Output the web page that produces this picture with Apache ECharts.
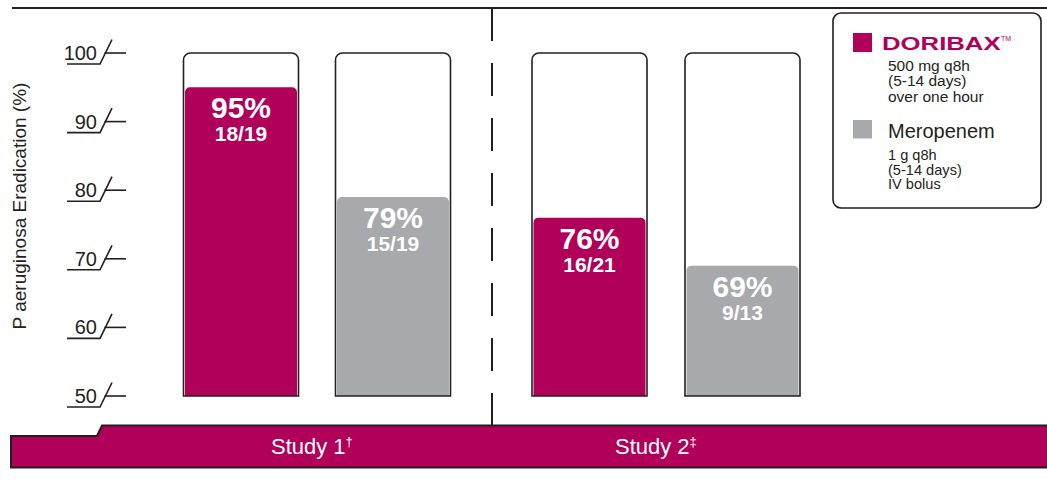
<!DOCTYPE html>
<html><head><meta charset="utf-8">
<script src="https://cdn.jsdelivr.net/npm/echarts@6/dist/echarts.min.js"></script>
<style>html,body{margin:0;padding:0;background:#fff}#c{width:1047px;height:481px}</style>
</head><body><div id="c"></div>
<script>
const treatments = ['DORIBAX', 'Meropenem'];
const studyNames = ['Study 1', 'Study 2'];
const studyMarks = ['†', '‡'];
const study1Pct = [95, 79];
const study1Frac = ['18/19', '15/19'];
const study2Pct = [76, 69];
const study2Frac = ['16/21', '9/13'];
const yTicks = [50, 60, 70, 80, 90, 100];
const yAxisTitle = 'P aeruginosa Eradication (%)';
const legendDoribax = ['500 mg q8h', '(5-14 days)', 'over one hour'];
const legendMeropenem = ['1 g q8h', '(5-14 days)', 'IV bolus'];

const CRIMSON = '#b0005a', GRAY = '#a7a9ac', INK = '#231f20';
const FONT = '"Liberation Sans", Arial, sans-serif';
const colors = [CRIMSON, GRAY];

function makeBarRender(fracs) {
  return function (params, api) {
    const cat = api.value(0), v = api.value(1);
    const top = api.coord([cat, 100]);
    const bot = api.coord([cat, 50]);
    const val = api.coord([cat, v]);
    const w = 115, x = top[0] - w / 2, cx = top[0];
    return {type: 'group', children: [
      {type: 'rect', shape: {x: x, y: top[1], width: w, height: bot[1] - top[1], r: [7, 7, 0, 0]}, style: {fill: '#fff'}},
      {type: 'rect', shape: {x: x + 1.5, y: val[1], width: w - 3, height: bot[1] - val[1], r: [5, 5, 0, 0]}, style: {fill: colors[params.dataIndex]}},
      {type: 'rect', shape: {x: x, y: top[1], width: w, height: bot[1] - top[1], r: [7, 7, 0, 0]}, style: {fill: 'none', stroke: INK, lineWidth: 1.6}},
      {type: 'text', style: {x: cx, y: val[1] + 20.5, text: v + '%', fill: '#fff', font: 'bold 30px ' + FONT, align: 'center', verticalAlign: 'middle'}},
      {type: 'text', style: {x: cx, y: val[1] + 46.5, text: fracs[params.dataIndex], fill: '#fff', font: 'bold 21px ' + FONT, align: 'center', verticalAlign: 'middle'}}
    ]};
  };
}

function renderTick(params, api) {
  const y = api.coord([0, api.value(1)])[1];
  return {type: 'group', children: [
    {type: 'polyline', shape: {points: [[67, y + 11], [100, y + 11], [112, y - 13.5]]}, style: {stroke: INK, lineWidth: 1.6, fill: 'none'}},
    {type: 'line', shape: {x1: 104.5, y1: y, x2: 126, y2: y}, style: {stroke: INK, lineWidth: 1.6}}
  ]};
}

function txt(x, y, text, font, fill, align, extra, vAlign) {
  return Object.assign({type: 'text', x: x, y: y, style: {text: text, font: font, fill: fill, align: align || 'left', verticalAlign: vAlign || 'middle'}}, extra || {});
}

function studyLabel(x, i) {
  return {type: 'text', x: x, y: 446, style: {
    text: '{a|' + studyNames[i] + '}{b|' + studyMarks[i] + '}',
    align: 'left', verticalAlign: 'middle',
    rich: {
      a: {fontSize: 22, fontFamily: FONT, fill: '#fff', lineHeight: 22},
      b: {fontSize: 13, fontFamily: FONT, fill: '#fff', verticalAlign: 'top', lineHeight: 13}
    }
  }};
}

const graphics = [
  {type: 'line', shape: {x1: 12, y1: 8, x2: 1047, y2: 8}, style: {stroke: INK, lineWidth: 2}},
  {type: 'line', shape: {x1: 492, y1: 8, x2: 492, y2: 425}, style: {stroke: INK, lineWidth: 2, lineDash: [33, 22]}},
  {type: 'polygon', shape: {points: [[11, 436], [97, 436], [102, 425.5], [1052, 425.5], [1052, 467.5], [11, 467.5]]}, style: {fill: CRIMSON, stroke: INK, lineWidth: 2}},
  studyLabel(271, 0),
  studyLabel(615, 1),
  txt(19, 206, yAxisTitle, '19px ' + FONT, INK, 'center', {rotation: Math.PI / 2}),
  {type: 'rect', shape: {x: 833, y: 13, width: 208, height: 195, r: 8}, style: {fill: '#fff', stroke: INK, lineWidth: 1.6}},
  {type: 'rect', shape: {x: 853, y: 33, width: 19, height: 19}, style: {fill: CRIMSON}},
  txt(882, 44, treatments[0], 'bold 18px ' + FONT, CRIMSON, 'left', {scaleX: 1.43}),
  txt(1001, 38.5, 'TM', '7px ' + FONT, CRIMSON),
  {type: 'text', x: 888, y: 57.5, style: {text: legendDoribax.join('\n'), font: '15.5px ' + FONT, fill: INK, lineHeight: 15.5, align: 'left', verticalAlign: 'top'}},
  {type: 'rect', shape: {x: 853, y: 120, width: 19, height: 18.5}, style: {fill: GRAY}},
  txt(888, 130.5, treatments[1], '20px ' + FONT, INK),
  {type: 'text', x: 888, y: 147.7, style: {text: legendMeropenem.join('\n'), font: '14.6px ' + FONT, fill: INK, lineHeight: 14.7, align: 'left', verticalAlign: 'top'}}
];

const chart = echarts.init(document.getElementById('c'), null, {renderer: 'svg'});
chart.setOption({
  animation: false,
  grid: [{left: 165, top: 53, width: 304, height: 343}, {left: 513, top: 53, width: 306, height: 343}],
  xAxis: [
    {type: 'category', gridIndex: 0, data: treatments, show: false},
    {type: 'category', gridIndex: 1, data: treatments, show: false}
  ],
  yAxis: [
    {type: 'value', gridIndex: 0, min: 50, max: 100, interval: 10, axisLine: {show: false}, axisTick: {show: false}, splitLine: {show: false},
     axisLabel: {margin: 68, fontSize: 20, color: INK, fontFamily: FONT}},
    {type: 'value', gridIndex: 1, min: 50, max: 100, interval: 10, show: false, splitLine: {show: false}}
  ],
  series: [
    {type: 'custom', xAxisIndex: 0, yAxisIndex: 0, renderItem: renderTick, data: yTicks.map(v => [0, v]), silent: true},
    {type: 'custom', xAxisIndex: 0, yAxisIndex: 0, renderItem: makeBarRender(study1Frac), data: study1Pct.map((v, i) => [i, v])},
    {type: 'custom', xAxisIndex: 1, yAxisIndex: 1, renderItem: makeBarRender(study2Frac), data: study2Pct.map((v, i) => [i, v])}
  ],
  graphic: graphics
});
</script></body></html>
